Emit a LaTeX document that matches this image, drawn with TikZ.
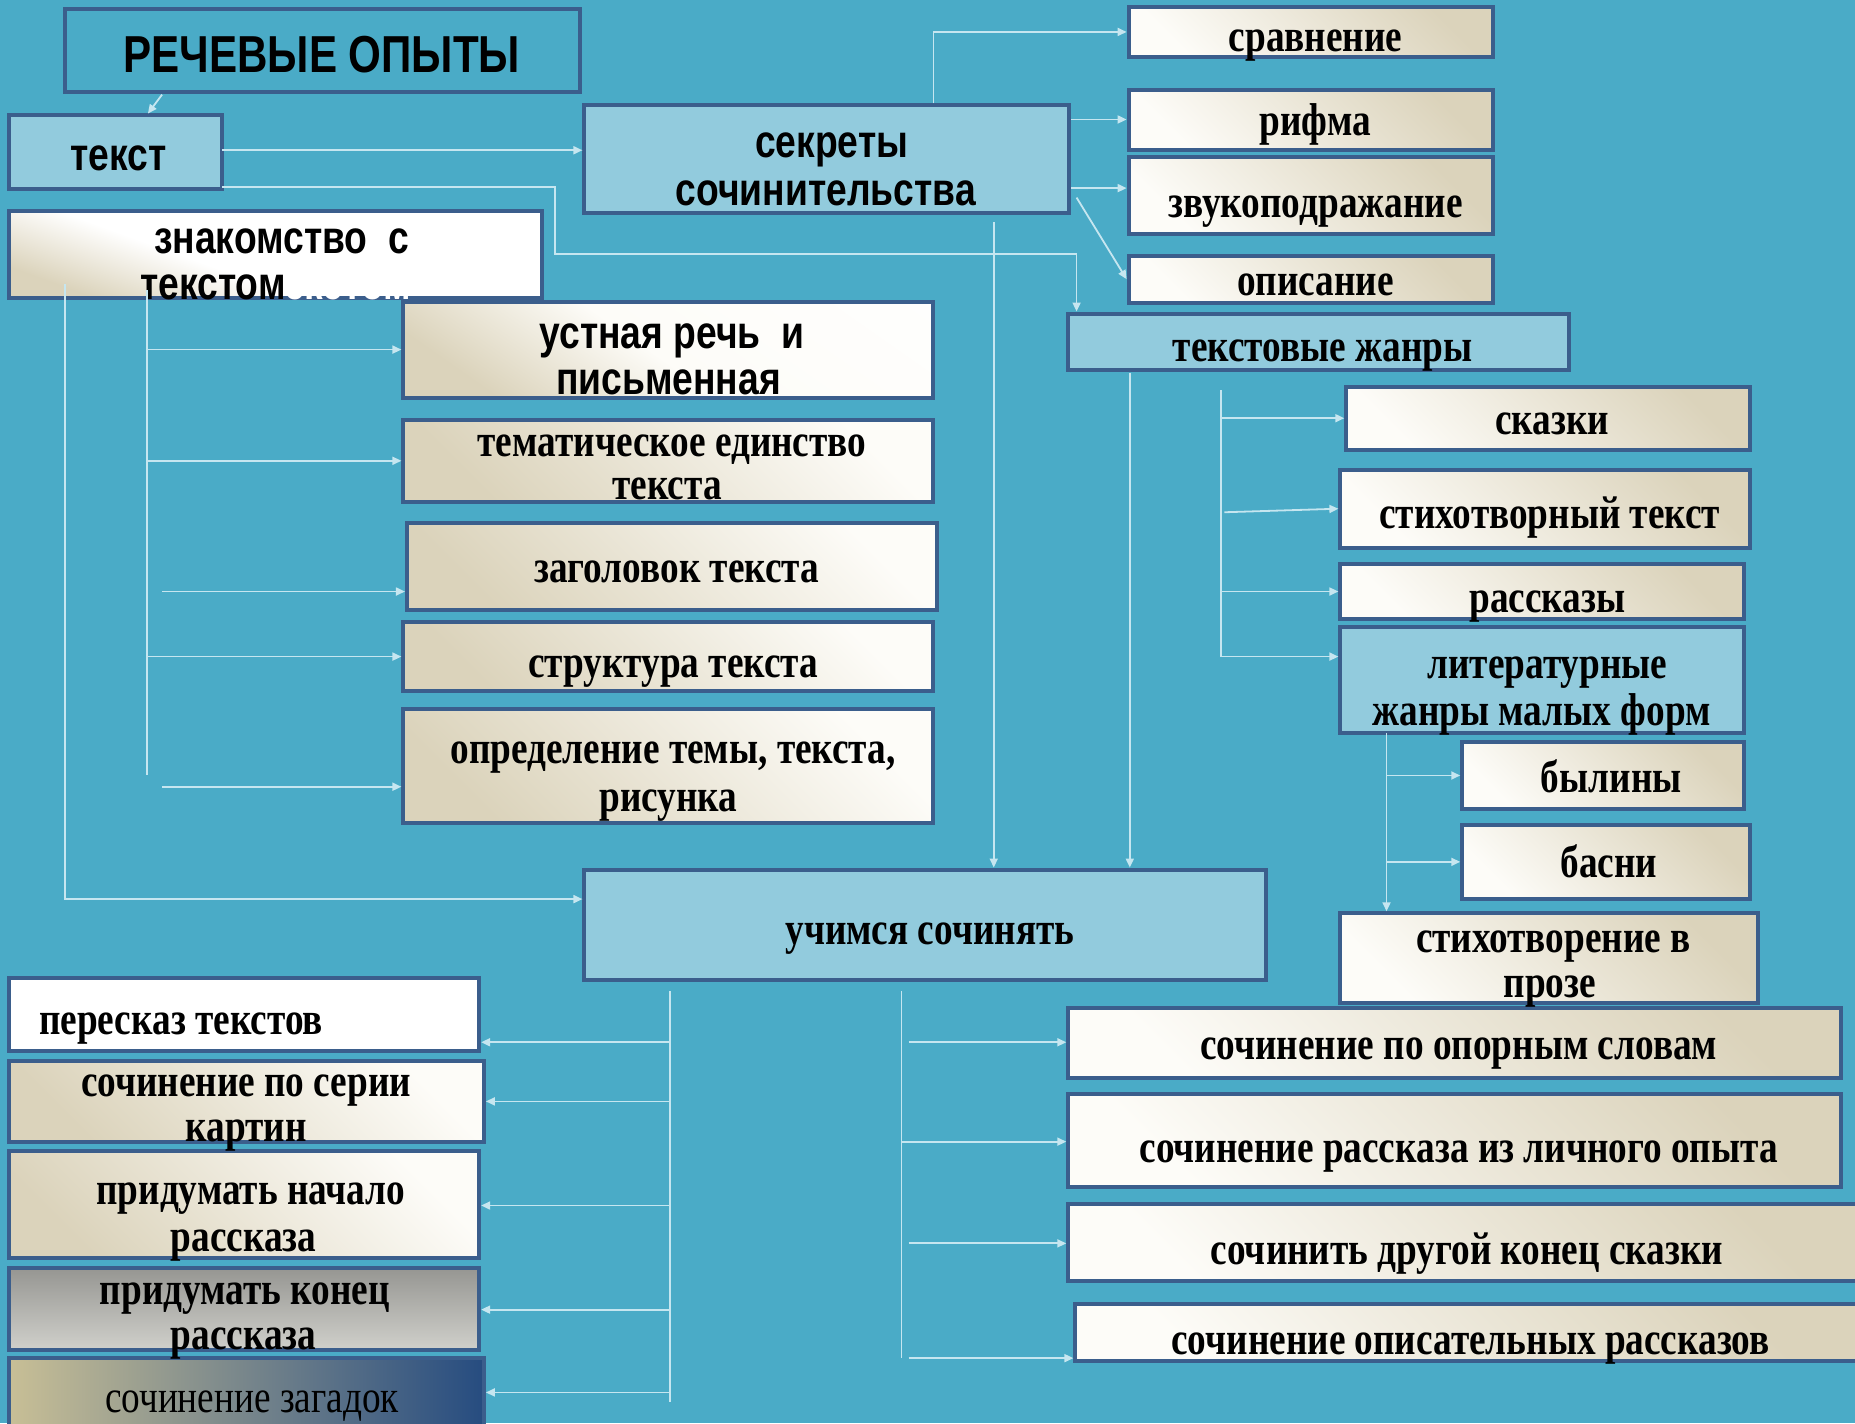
\documentclass[tikz,border=0pt]{standalone}
\usepackage{fontspec}
\setmainfont{Liberation Serif}[FakeStretch=0.81]
\newfontfamily\sansf{Liberation Sans}[FakeStretch=0.81]
\usetikzlibrary{fit,arrows.meta,calc}
\definecolor{bgc}{RGB}{74,171,199}
\definecolor{bordc}{RGB}{59,94,140}
\definecolor{lblue}{RGB}{146,203,221}
\definecolor{beige}{RGB}{219,211,187}
\definecolor{ivory}{RGB}{253,252,248}
\definecolor{greyA}{RGB}{150,150,146}
\definecolor{greyB}{RGB}{208,208,203}
\definecolor{tan}{RGB}{200,191,150}
\definecolor{navy}{RGB}{38,76,128}
\definecolor{connc}{RGB}{198,230,240}
\pgfdeclarehorizontalshading{znshade}{100bp}{color(0bp)=(beige); color(25bp)=(beige); color(42bp)=(white); color(100bp)=(white)}
\pgfdeclarehorizontalshading{usshade}{100bp}{color(0bp)=(beige); color(25bp)=(beige); color(48bp)=(ivory); color(100bp)=(white)}
\begin{document}
\begin{tikzpicture}[x=1.183pt,y=-1.183pt,
  box/.style={draw=bordc, line width=4pt, inner sep=0pt},
  lb/.style={box, fill=lblue},
  tb/.style={box, fill=bgc},
  wb/.style={box, fill=white},
  bA/.style={box, top color=beige, bottom color=ivory, shading angle=-45},
  bB/.style={box, top color=ivory, bottom color=beige, shading angle=-45},
  bZ/.style={box, shading=znshade, shading angle=70},
  bU/.style={box, shading=usshade, shading angle=55},
  gb/.style={box, top color=greyA, bottom color=greyB},
  zb/.style={box, left color=tan, right color=navy},
  sb/.style={font=\sansf\bfseries\fontsize{46}{46}\selectfont, inner sep=0pt, anchor=base, yshift=-3pt},
  st/.style={font=\sansf\bfseries\fontsize{52}{52}\selectfont, inner sep=0pt, anchor=base, yshift=-3pt},
  rb/.style={font=\bfseries\fontsize{46}{46}\selectfont, inner sep=0pt, anchor=base, yshift=-3pt},
  rn/.style={font=\fontsize{46}{46}\selectfont, inner sep=0pt, anchor=base, yshift=-3pt},
  conn/.style={draw=connc, line width=1.8pt},
  arr/.style={conn, -{Triangle[length=9pt,width=8pt]}}
]
\fill[bgc] (0,0) rectangle (1568,1203);
\useasboundingbox (0,0) rectangle (1568,1203);

% boxes
\node[tb, fit={(55,8) (490,78)}] (title) {};
\node[lb, fit={(8,97) (188,160)}] (tekst) {};
\node[bZ, fit={(8,178) (458,252)}] (znak) {};
\node[lb, fit={(494,89) (904,180)}] (sekr) {};
\node[bA, fit={(954,6) (1262,48)}] (sravn) {};
\node[bA, fit={(954,76) (1262,127)}] (rifma) {};
\node[bA, fit={(954,133) (1262,198)}] (zvuk) {};
\node[bA, fit={(954,216) (1262,256)}] (opis) {};
\node[lb, fit={(903,265) (1326,313)}] (zhanry) {};
\node[bU, fit={(341,255) (789,336)}] (ustn) {};
\node[bB, fit={(341,355) (789,424)}] (tema) {};
\node[bB, fit={(344,442) (792,516)}] (zagl) {};
\node[bB, fit={(341,526) (789,584)}] (strukt) {};
\node[bB, fit={(341,599) (789,696)}] (opred) {};
\node[bA, fit={(1138,327) (1479,380)}] (skazki) {};
\node[bA, fit={(1133,397) (1479,463)}] (stikh) {};
\node[bA, fit={(1133,477) (1474,523)}] (rassk) {};
\node[lb, fit={(1133,530) (1474,620)}] (lit) {};
\node[bA, fit={(1236,627) (1474,684)}] (bylin) {};
\node[bA, fit={(1236,697) (1479,760)}] (basni) {};
\node[bA, fit={(1133,772) (1486,848)}] (stpr) {};
\node[lb, fit={(494,735) (1070,828)}] (uch) {};
\node[wb, fit={(8,827) (405,888)}] (peresk) {};
\node[bB, fit={(8,897) (409,965)}] (seria) {};
\node[bB, fit={(8,973) (405,1063)}] (nach) {};
\node[gb, fit={(8,1072) (405,1141)}] (konec) {};
\node[zb, fit={(8,1148) (409,1210)}] (zagad) {};
\node[bA, fit={(903,852) (1556,911)}] (opor) {};
\node[bA, fit={(903,925) (1556,1003)}] (lichn) {};
\node[bA, fit={(903,1018) (1576,1083)}] (drug) {};
\node[bA, fit={(909,1102) (1576,1150)}] (opisat) {};

% texts
\node[st] (t0) at (272,59) {РЕЧЕВЫЕ ОПЫТЫ};
\node[sb] (t1) at (100,142) {текст};
\node[sb] (t2a) at (238,212) {знакомство\ \ с};
\node[sb] (t2b) at (180,251) {текстом};
\node[sb, text=white, anchor=base west] (t2c) at (240,251) {екстом};
\node[sb] (t3a) at (703,131) {секреты};
\node[sb] (t3b) at (698,171) {сочинительства};
\node[rb] (t4) at (1112,41) {сравнение};
\node[rb] (t5) at (1112,112) {рифма};
\node[rb] (t6) at (1112,181) {звукоподражание};
\node[rb] (t7) at (1112,247) {описание};
\node[rb] (t8) at (1118,303) {текстовые жанры};
\node[sb] (t9a) at (568,292) {устная речь\ \ и};
\node[sb] (t9b) at (565,331) {письменная};
\node[rb] (t10a) at (568,383) {тематическое единство};
\node[rb] (t10b) at (564,420) {текста};
\node[rb] (t11) at (572,490) {заголовок текста};
\node[rb] (t12) at (569,570) {структура текста};
\node[rb] (t13a) at (569,643) {определение темы, текста,};
\node[rb] (t13b) at (565,683) {рисунка};
\node[rb] (t14) at (1312,365) {сказки};
\node[rb] (t15) at (1310,444) {стихотворный текст};
\node[rb] (t16) at (1308,515) {рассказы};
\node[rb] (t17a) at (1308,571) {литературные};
\node[rb] (t17b) at (1303,611) {жанры малых форм};
\node[rb] (t18) at (1362,667) {былины};
\node[rb] (t19) at (1360,739) {басни};
\node[rb] (t20a) at (1313,803) {стихотворение в};
\node[rb] (t20b) at (1310,841) {прозе};
\node[rb] (t21) at (786,796) {учимся сочинять};
\node[rb] (t22) at (153,872) {пересказ текстов};
\node[rb] (t23a) at (208,924) {сочинение по серии};
\node[rb] (t23b) at (208,962) {картин};
\node[rb] (t24a) at (212,1016) {придумать начало};
\node[rb] (t24b) at (206,1055) {рассказа};
\node[rb] (t25a) at (207,1100) {придумать конец};
\node[rb] (t25b) at (206,1138) {рассказа};
\node[rn] (t26) at (213,1191) {сочинение загадок};
\node[rb] (t27) at (1233,893) {сочинение по опорным словам};
\node[rb] (t28) at (1233,980) {сочинение рассказа из личного опыта};
\node[rb] (t29) at (1240,1066) {сочинить другой конец сказки};
\node[rb] (t30) at (1243,1142) {сочинение описательных рассказов};

% connector coordinates
\coordinate (rS) at (137,80);
\coordinate (tkN) at (125,96);
\coordinate (tkA) at (188,127);
\coordinate (tkB) at (188,158);
\coordinate (j1) at (469,158);
\coordinate (j2) at (469,215);
\coordinate (j3) at (910,215);
\coordinate (s1) at (789,27);
\coordinate (s2) at (904,101);
\coordinate (s3) at (904,159);
\coordinate (s4) at (910,167);
\coordinate (s5) at (840,188);
\coordinate (z1) at (955,315);
\coordinate (zt1) at (1032,330);
\coordinate (zt2) at (1032,555);
\coordinate (zb2) at (1035,433);
\coordinate (lt1) at (1172,620);
\coordinate (kt1) at (124,245);
\coordinate (kt2) at (124,655);
\coordinate (kb3) at (137,500);
\coordinate (kb5) at (137,665);
\coordinate (kL) at (55,240);
\coordinate (kL2) at (55,760);
\coordinate (u1) at (566,838);
\coordinate (u2) at (566,1185);
\coordinate (ul1) at (566,881);
\coordinate (ul2) at (566,931);
\coordinate (ul3) at (566,1019);
\coordinate (ul4) at (566,1107);
\coordinate (ul5) at (566,1177);
\coordinate (v1) at (762,838);
\coordinate (v2) at (762,1148);
\coordinate (vr1) at (768,881);
\coordinate (vr2) at (762,965);
\coordinate (vr3) at (768,1051);
\coordinate (vr4) at (768,1148);

% connectors
\draw[arr] (rS) -- (tkN);
\draw[arr] (tkA) -- (sekr.west |- tkA);
\draw[arr] (tkB) -- (j1) -- (j2) -- (j3) -- (j3 |- zhanry.north);
\draw[arr] (s1 |- sekr.north) -- (s1) -- (sravn.west |- s1);
\draw[arr] (sekr.east |- s2) -- (rifma.west |- s2);
\draw[arr] (sekr.east |- s3) -- (zvuk.west |- s3);
\draw[arr] (s4) -- (opis.west);
\draw[arr] (s5) -- (s5 |- uch.north);
\draw[arr] (z1) -- (z1 |- uch.north);
\draw[conn] (zt1) -- (zt2);
\draw[arr] (zt1 |- skazki.west) -- (skazki.west);
\draw[arr] (zb2) -- (stikh.west);
\draw[arr] (zt1 |- rassk.west) -- (rassk.west);
\draw[arr] (zt2) -- (lit.west |- zt2);
\draw[arr] (lt1) -- (lt1 |- stpr.north);
\draw[arr] (lt1 |- bylin.west) -- (bylin.west);
\draw[arr] (lt1 |- basni.west) -- (basni.west);
\draw[conn] (kt1) -- (kt2);
\draw[arr] (kt1 |- ustn.west) -- (ustn.west);
\draw[arr] (kt1 |- tema.west) -- (tema.west);
\draw[arr] (kb3) -- (zagl.west |- kb3);
\draw[arr] (kt1 |- strukt.west) -- (strukt.west);
\draw[arr] (kb5) -- (opred.west |- kb5);
\draw[arr] (kL) -- (kL2) -- (uch.west |- kL2);
\draw[conn] (u1) -- (u2);
\draw[arr] (ul1) -- (peresk.east |- ul1);
\draw[arr] (ul2) -- (seria.east |- ul2);
\draw[arr] (ul3) -- (nach.east |- ul3);
\draw[arr] (ul4) -- (konec.east |- ul4);
\draw[arr] (ul5) -- (zagad.east |- ul5);
\draw[conn] (v1) -- (v2);
\draw[arr] (vr1) -- (opor.west |- vr1);
\draw[arr] (vr2) -- (lichn.west |- vr2);
\draw[arr] (vr3) -- (drug.west |- vr3);
\draw[arr] (vr4) -- (opisat.west |- vr4);
\end{tikzpicture}
\end{document}
